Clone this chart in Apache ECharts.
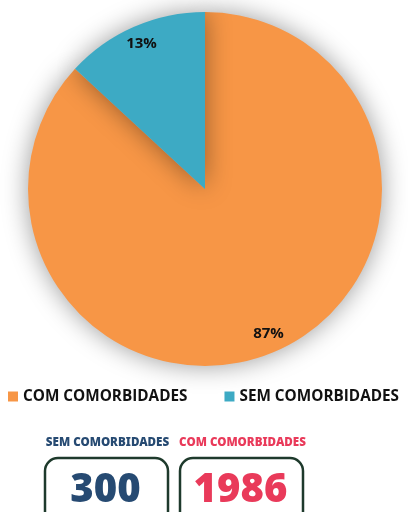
<!DOCTYPE html>
<html>
<head>
<meta charset="utf-8">
<script src="https://cdn.jsdelivr.net/npm/echarts@6/dist/echarts.min.js"></script>
<style>
  html, body { margin: 0; padding: 0; background: #fff; }
  #chart { width: 408px; height: 512px; }
</style>
</head>
<body>
<div id="chart"></div>
<script>
const categories = ["COM COMORBIDADES", "SEM COMORBIDADES"];
const counts = [1986, 300];
const colors = ["#F79646", "#3DAAC4"];

// boxes under the legend: label, value, colour
const boxLabels = ["SEM COMORBIDADES", "COM COMORBIDADES"];
const boxValues = ["300", "1986"];
const boxColors = ["#264A72", "#E93A5A"];

const pieData = categories.map((name, i) => ({ name: name, value: counts[i] }));

const chart = echarts.init(document.getElementById("chart"));

const boxX = [45, 180];
const boxW = 123;
let graphics = [];
boxLabels.forEach((lab, i) => {
  graphics.push({
    type: "text",
    x: boxX[i] + boxW / 2 + 1,
    y: 443,
    style: {
      text: lab,
      fill: boxColors[i],
      font: "900 11.6px 'Noto Sans'",
      textAlign: "center",
      textVerticalAlign: "middle",
    },
  });
  graphics.push({
    type: "rect",
    shape: { x: boxX[i], y: 458, width: boxW, height: 80, r: 13 },
    style: { fill: "#fff", stroke: "#1E3A2C", lineWidth: 2.5 },
  });
  graphics.push({
    type: "text",
    x: boxX[i] + boxW / 2 - 1,
    y: 491,
    style: {
      text: boxValues[i],
      fill: boxColors[i],
      font: "900 40px 'Noto Sans'",
      textAlign: "center",
      textVerticalAlign: "middle",
    },
  });
});

const option = {
  animation: false,
  color: colors,
  legend: {
    data: categories,
    left: 8,
    top: 389,
    width: 430,
    padding: 0,
    icon: "rect",
    itemWidth: 10,
    itemHeight: 10,
    itemGap: 37,
    textStyle: {
      fontFamily: "Open Sans",
      fontWeight: "bold",
      fontSize: 15.3,
      color: "#111",
    },
  },
  graphic: graphics,
  series: [
    {
      type: "pie",
      center: [205, 189],
      radius: 177,
      startAngle: 90,
      data: pieData,
      label: { show: false },
      labelLine: { show: false },
      itemStyle: {
        shadowBlur: 26,
        shadowColor: "rgba(0,0,0,0.4)",
      },
      emphasis: { disabled: true },
    },
    {
      // transparent ring only used to place the percent labels near the rim
      type: "pie",
      center: [205, 189],
      radius: [134, 177],
      startAngle: 90,
      silent: true,
      data: pieData,
      itemStyle: { color: "transparent" },
      label: {
        show: true,
        position: "inside",
        formatter: (p) => Math.round(p.percent) + "%",
        fontFamily: "Open Sans",
        fontWeight: "bold",
        fontSize: 15,
        color: "#111",
      },
      labelLine: { show: false },
      emphasis: { disabled: true },
    },
  ],
};

chart.setOption(option);
</script>
</body>
</html>
